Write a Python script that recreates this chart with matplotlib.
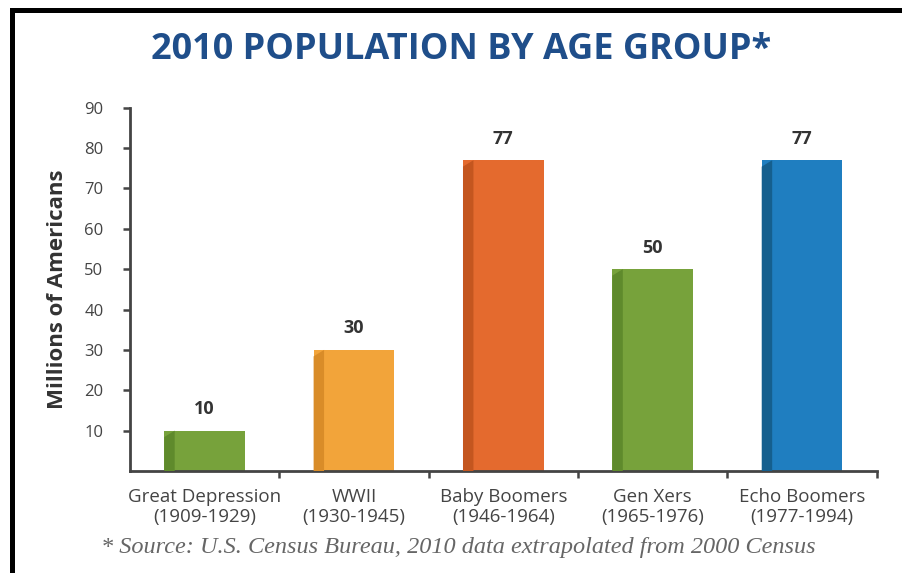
import matplotlib.pyplot as plt
from matplotlib.patches import Polygon, Rectangle

groups = ["Great Depression", "WWII", "Baby Boomers", "Gen Xers", "Echo Boomers"]
years = ["(1909-1929)", "(1930-1945)", "(1946-1964)", "(1965-1976)", "(1977-1994)"]
millions = [10, 30, 77, 50, 77]

face_colors = ["#77A23B", "#F2A43A", "#E46A2E", "#77A23B", "#1F7EC0"]
side_colors = ["#5F8A2C", "#D98C28", "#C4561F", "#5F8A2C", "#155F8E"]

BAR_W = 0.54
SIDE_W = 0.07
SIDE_DROP = 1.6

fig = plt.figure(figsize=(9.02, 5.73), dpi=100)
ax = fig.add_axes([0.144, 0.178, 0.828, 0.634])

for i, (val, fc, sc) in enumerate(zip(millions, face_colors, side_colors)):
    x0 = i - BAR_W / 2
    ax.bar(i, val, width=BAR_W, color=fc, edgecolor="none", zorder=2)
    # darker left face gives the bars a shallow 3D look
    side = Polygon([(x0, 0), (x0, val - SIDE_DROP), (x0 + SIDE_W, val),
                    (x0 + SIDE_W, 0)], closed=True, facecolor=sc,
                   edgecolor="none", zorder=3)
    ax.add_patch(side)
    ax.annotate(str(val), xy=(i, val), xytext=(0, 9), textcoords="offset points",
                ha="center", va="bottom", fontsize=13, fontweight="bold",
                color="#333333", family="Open Sans")

ax.set_xlim(-0.5, 4.5)
ax.set_ylim(0, 90)
ax.set_yticks(range(10, 91, 10))
ax.set_yticklabels([str(v) for v in range(10, 91, 10)], fontsize=12,
                   color="#444444", family="Open Sans")
ax.set_xticks([i + 0.5 for i in range(5)])
ax.set_xticklabels([])
ax.set_xticks(range(5), minor=True)
ax.set_xticklabels([f"{g}\n{y}" for g, y in zip(groups, years)], minor=True,
                   fontsize=13.5, color="#444444", family="Open Sans",
                   linespacing=1.2)
ax.tick_params(axis="x", which="minor", length=0, pad=12)
ax.tick_params(axis="x", which="major", length=5, width=1.8, color="#444444",
               direction="out")
ax.tick_params(axis="y", length=5, width=1.8, color="#444444", direction="out",
               pad=14)

for s in ["top", "right"]:
    ax.spines[s].set_visible(False)
for s in ["left", "bottom"]:
    ax.spines[s].set_color("#444444")
    ax.spines[s].set_linewidth(2)

ax.set_ylabel("Millions of Americans", fontsize=16, fontweight="bold",
              color="#333333", family="Open Sans", labelpad=12)

fig.text(0.511, 0.912, "2010 POPULATION BY AGE GROUP*", ha="center",
         va="center", fontsize=26, fontweight="bold", color="#1F4E8A",
         family="Open Sans")

fig.text(0.508, 0.044,
         "* Source: U.S. Census Bureau, 2010 data extrapolated from 2000 Census",
         ha="center", va="center", fontsize=17.5, style="italic",
         color="#666666", family="Liberation Serif")

# black frame along the top and left edges
fig.add_artist(Rectangle((0.011, 0.977), 0.989, 0.009, transform=fig.transFigure,
                         facecolor="black", edgecolor="none"))
fig.add_artist(Rectangle((0.011, 0.0), 0.006, 0.986, transform=fig.transFigure,
                         facecolor="black", edgecolor="none"))

fig.savefig("out.png", dpi=100)
